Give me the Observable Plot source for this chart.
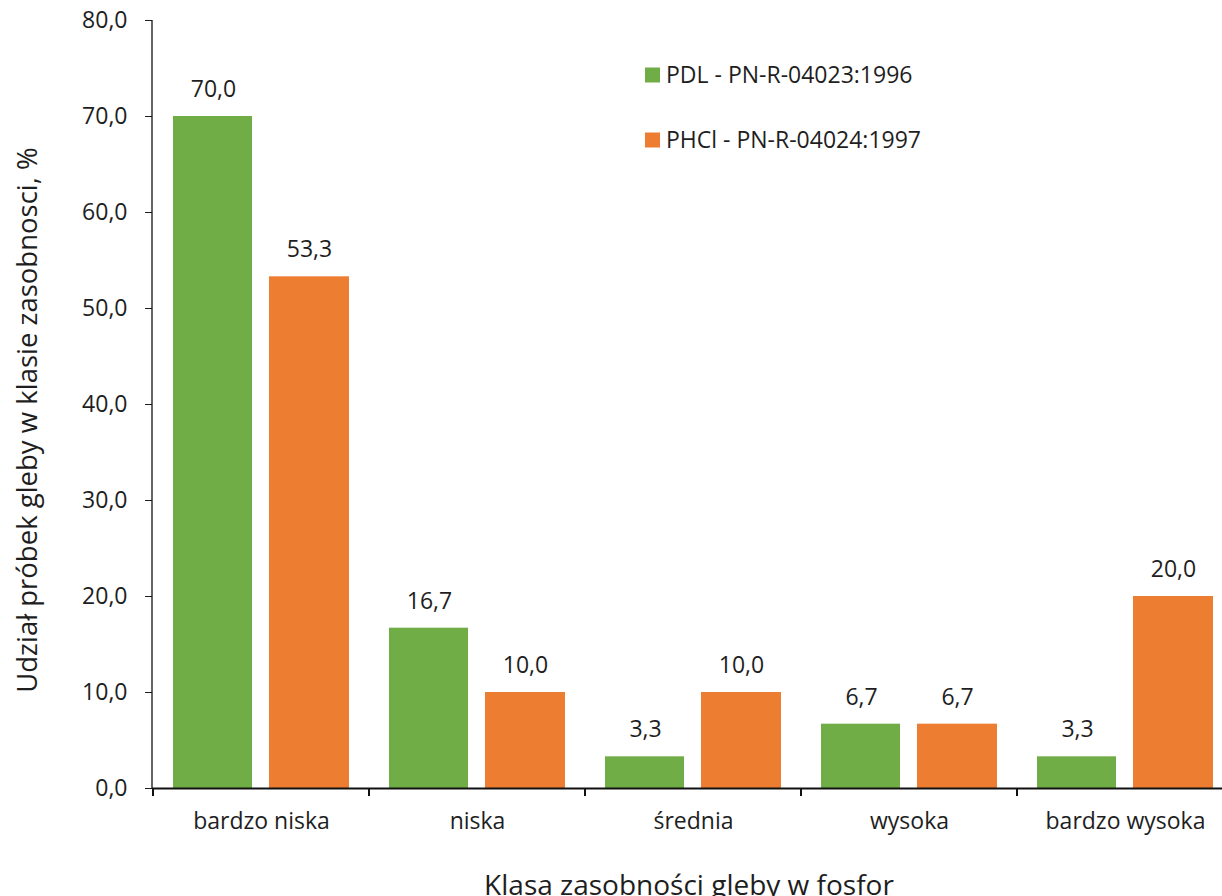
<!DOCTYPE html>
<html>
<head>
<meta charset="utf-8">
<script src="https://cdn.jsdelivr.net/npm/d3@7"></script>
<script src="https://cdn.jsdelivr.net/npm/@observablehq/plot@0.6"></script>
<style>
  html, body { margin: 0; padding: 0; background: #fff; overflow: hidden; }
</style>
</head>
<body>
<div id="chart"></div>
<script>
// Soil phosphorus abundance classes and share of samples (%) per method
const categories = ["bardzo niska", "niska", "średnia", "wysoka", "bardzo wysoka"];
const series = ["PDL - PN-R-04023:1996", "PHCl - PN-R-04024:1997"];
const pdlValues = [70.0, 16.7, 3.3, 6.7, 3.3];
const phclValues = [53.3, 10.0, 10.0, 6.7, 20.0];
const yTicks = [0, 10, 20, 30, 40, 50, 60, 70, 80];
const colors = ["#70AD47", "#ED7D31"];
const yTitle = "Udział próbek gleby w klasie zasobnosci, %";
const xTitle = "Klasa zasobności gleby w fosfor";

const fmt = v => v.toFixed(1).replace(".", ",");

const pdlRows = categories.map((c, i) => ({category: c, series: series[0], value: pdlValues[i]}));
const phclRows = categories.map((c, i) => ({category: c, series: series[1], value: phclValues[i]}));

const textColor = "#1e1e1e";
const labelSize = 23;

// Axis lines, boundary ticks between classes, legend and axis titles
function decorations(index, scales, values, dims) {
  const {x, y, color} = scales;
  const g = d3.create("svg:g").attr("text-anchor", "start");
  const left = dims.marginLeft;
  const y0 = y(0);

  // vertical axis line
  g.append("line")
    .attr("x1", left).attr("x2", left)
    .attr("y1", y(80)).attr("y2", y0)
    .attr("stroke", "#111").attr("stroke-width", 1.3);

  // ticks at class boundaries
  const step = x(categories[1]) - x(categories[0]);
  const edges = categories.map(c => x(c)).concat([x(categories[categories.length - 1]) + step]);
  g.selectAll(".edge").data(edges).join("line")
    .attr("x1", d => d).attr("x2", d => d)
    .attr("y1", y0).attr("y2", y0 + 8)
    .attr("stroke", "#111").attr("stroke-width", 2);

  // legend
  const lg = g.append("g");
  series.forEach((s, i) => {
    const cy = 75 + i * 65;
    lg.append("rect")
      .attr("x", 645).attr("y", cy - 7.5)
      .attr("width", 15).attr("height", 15)
      .attr("fill", color(s));
    lg.append("text")
      .attr("x", 666).attr("y", cy)
      .attr("dy", "0.35em")
      .attr("text-anchor", "start")
      .attr("fill", textColor)
      .attr("font-size", labelSize)
      .text(s);
  });

  // axis titles
  g.append("text")
    .attr("transform", `translate(27,420) rotate(-90)`)
    .attr("text-anchor", "middle")
    .attr("dy", "0.35em")
    .attr("fill", textColor)
    .attr("font-size", 27.5)
    .text(yTitle);
  g.append("text")
    .attr("x", 689).attr("y", 895)
    .attr("text-anchor", "middle")
    .attr("fill", textColor)
    .attr("font-size", 28)
    .text(xTitle);

  return g.node();
}

const chart = Plot.plot({
  width: 1222,
  height: 896,
  marginLeft: 152,
  marginRight: -12.5,
  marginTop: 20,
  marginBottom: 108,
  style: {fontFamily: "'Open Sans', sans-serif", fontSize: labelSize + "px", color: textColor, background: "#fff"},
  x: {domain: categories, padding: 0, tickSize: 0, tickPadding: 24.5, label: null},
  y: {domain: [0, 80], ticks: yTicks, tickFormat: fmt, tickSize: 7, tickPadding: 18, label: null},
  color: {domain: series, range: colors},
  marks: [
    Plot.barY(pdlRows, {x: "category", y: "value", fill: "series", insetLeft: 20, insetRight: 117}),
    Plot.barY(phclRows, {x: "category", y: "value", fill: "series", insetLeft: 116, insetRight: 20}),
    Plot.text(pdlRows, {x: "category", y: "value", text: d => fmt(d.value), dx: -48, dy: -27, fill: textColor, fontSize: labelSize}),
    Plot.text(phclRows, {x: "category", y: "value", text: d => fmt(d.value), dx: 48, dy: -27, fill: textColor, fontSize: labelSize}),
    Plot.ruleY([0], {stroke: "#111", strokeWidth: 2}),
    decorations
  ]
});

document.getElementById("chart").appendChild(chart);
</script>
</body>
</html>
